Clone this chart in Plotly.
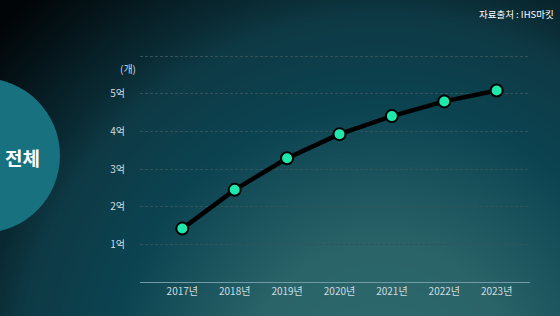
import base64, struct, zlib
import numpy as np
import plotly.graph_objects as go

# ---- data ----
years = ["2017년", "2018년", "2019년", "2020년", "2021년", "2022년", "2023년"]
values = [1.42, 2.45, 3.29, 3.93, 4.41, 4.80, 5.09]  # 단위: 억 개
y_tickvals = [1, 2, 3, 4, 5, 6]
y_ticktext = ["1억", "2억", "3억", "4억", "5억", ""]

W, H = 560, 316
FONT = "Noto Sans CJK KR"

# ---- background gradient as PNG ----
def make_bg():
    yy, xx = np.mgrid[0:H, 0:W].astype(float)
    d = np.sqrt((xx - 380) ** 2 + (yy - 380) ** 2)
    stops = [0, 136, 271, 363, 400, 516, 650]
    cols = [(46, 107, 112), (42, 100, 104), (12, 68, 82), (14, 58, 69),
            (10, 42, 51), (2, 6, 8), (0, 0, 0)]
    img = np.zeros((H, W, 3), dtype=np.uint8)
    for c in range(3):
        img[:, :, c] = np.clip(np.interp(d, stops, [col[c] for col in cols]), 0, 255).astype(np.uint8)
    raw = b"".join(b"\x00" + img[r].tobytes() for r in range(H))
    def chunk(t, data):
        return struct.pack(">I", len(data)) + t + data + struct.pack(">I", zlib.crc32(t + data) & 0xffffffff)
    png = b"\x89PNG\r\n\x1a\n" + chunk(b"IHDR", struct.pack(">IIBBBBB", W, H, 8, 2, 0, 0, 0)) \
        + chunk(b"IDAT", zlib.compress(raw, 9)) + chunk(b"IEND", b"")
    return "data:image/png;base64," + base64.b64encode(png).decode()

fig = go.Figure()
fig.add_trace(go.Scatter(
    x=list(range(len(years))), y=values, mode="lines+markers",
    line=dict(color="#000000", width=4.5),
    marker=dict(size=12, color="#1ee8ab", line=dict(color="#000000", width=2)),
    hoverinfo="skip", showlegend=False,
))

fig.update_layout(
    width=W, height=H,
    margin=dict(l=0, r=0, t=0, b=0),
    paper_bgcolor="#062a33", plot_bgcolor="rgba(0,0,0,0)",
    font=dict(family=FONT, color="#cfdde0", size=10),
    images=[dict(source=make_bg(), xref="paper", yref="paper", x=0, y=1,
                 sizex=1, sizey=1, sizing="stretch", xanchor="left", yanchor="top",
                 layer="below")],
    xaxis=dict(domain=[140 / W, 530 / W], range=[-0.807, 6.636],
               tickvals=list(range(len(years))), ticktext=years,
               showgrid=False, zeroline=False, showline=True,
               linecolor="#6f9ca6", linewidth=1, ticks="", fixedrange=True),
    yaxis=dict(domain=[34 / H, (H - 54.4) / H], range=[0, 6.05],
               tickvals=y_tickvals, ticktext=y_ticktext,
               showgrid=True, gridcolor="#33525a", griddash="3px,2px", gridwidth=1,
               zeroline=False, showline=False, ticks="outside", ticklen=0,
               ticklabelstandoff=12, fixedrange=True),
    shapes=[dict(type="circle", xref="paper", yref="paper",
                 x0=-95 / W, x1=60 / W, y0=(H - 233) / H, y1=(H - 78) / H,
                 fillcolor="#18717f", line=dict(width=0), layer="below")],
    annotations=[
        dict(text="전체", xref="paper", yref="paper", x=22 / W, y=(H - 157) / H,
             showarrow=False, font=dict(size=19, color="#ffffff", family=FONT, weight="bold"),
             xanchor="center", yanchor="middle"),
        dict(text="(개)", xref="paper", yref="paper", x=128 / W, y=(H - 68) / H,
             showarrow=False, font=dict(size=10, color="#cfdde0", family=FONT),
             xanchor="center", yanchor="middle"),
        dict(text="자료출처 : IHS마킷", xref="paper", yref="paper", x=556 / W, y=(H - 14) / H,
             showarrow=False, font=dict(size=9.5, color="#ffffff", family=FONT),
             xanchor="right", yanchor="middle"),
    ],
)

fig.write_html("out.html")
